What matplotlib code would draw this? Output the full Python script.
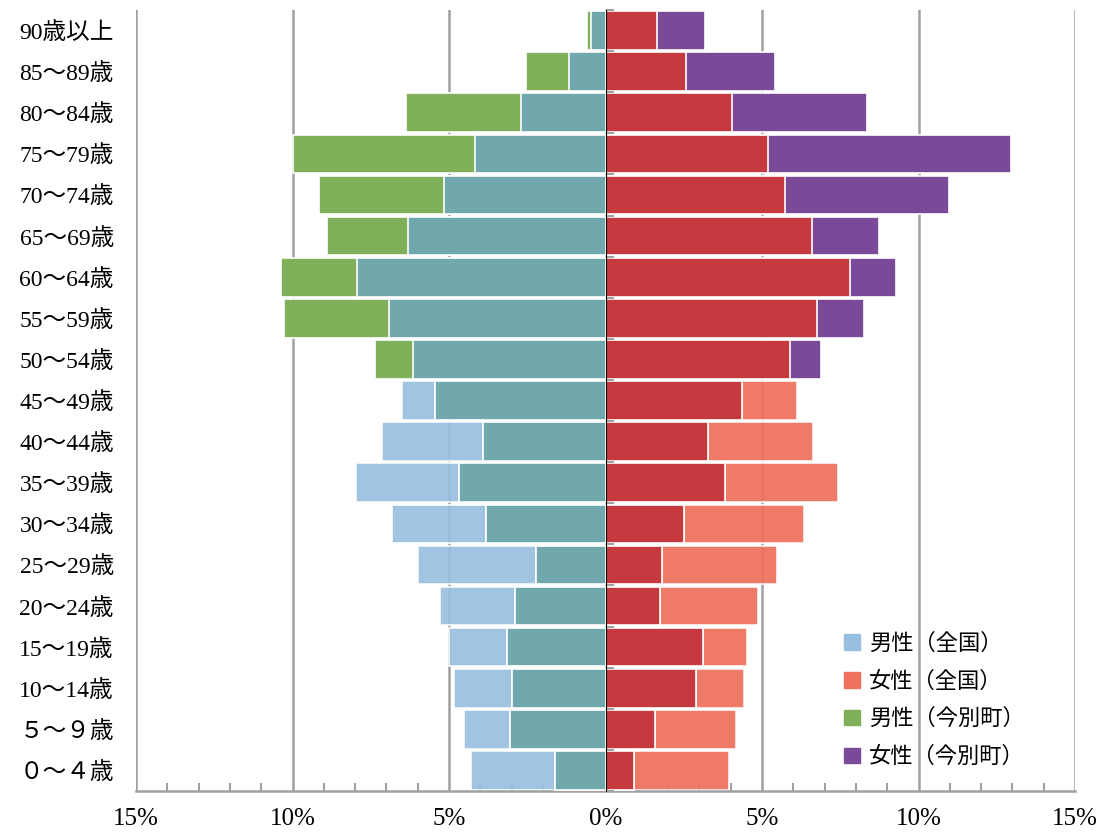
import numpy as np
import matplotlib
matplotlib.use("Agg")
import matplotlib.pyplot as plt
from matplotlib.patches import Patch
from matplotlib.ticker import MultipleLocator

plt.rcParams['font.family'] = ['Liberation Serif', 'Noto Sans CJK JP', 'DejaVu Sans']

# 年齢階級（下から上）
ages = ["０～４歳", "５～９歳", "10～14歳", "15～19歳", "20～24歳", "25～29歳",
        "30～34歳", "35～39歳", "40～44歳", "45～49歳", "50～54歳", "55～59歳",
        "60～64歳", "65～69歳", "70～74歳", "75～79歳", "80～84歳", "85～89歳",
        "90歳以上"]

# 構成比（%）
male_nat = [4.30, 4.52, 4.83, 4.99, 5.29, 5.98, 6.82, 7.98, 7.13, 6.51,
            6.15, 6.92, 7.94, 6.32, 5.16, 4.16, 2.70, 1.17, 0.46]
male_town = [1.60, 3.06, 2.99, 3.14, 2.90, 2.22, 3.83, 4.68, 3.90, 5.45,
             7.36, 10.27, 10.37, 8.91, 9.14, 9.99, 6.37, 2.53, 0.60]
female_nat = [3.96, 4.18, 4.42, 4.51, 4.88, 5.49, 6.33, 7.42, 6.63, 6.11,
              5.89, 6.75, 7.80, 6.58, 5.74, 5.20, 4.05, 2.58, 1.64]
female_town = [0.90, 1.57, 2.88, 3.12, 1.73, 1.81, 2.50, 3.81, 3.27, 4.35,
               6.88, 8.25, 9.27, 8.73, 10.96, 12.95, 8.35, 5.41, 3.18]

c_mnat = "#98BFE0"
c_mtown = "#80B05A"
c_mboth = "#71A8AD"
c_fnat = "#EF725F"
c_ftown = "#7A4A98"
c_fboth = "#C6393F"
grid_c = "#A0A0A0"

y = np.arange(len(ages))
mn = np.array(male_nat)
mt = np.array(male_town)
fn = np.array(female_nat)
ft = np.array(female_town)

fig = plt.figure(figsize=(11.05, 8.36), dpi=100)
ax = fig.add_axes([0.1231, 0.0538, 0.8498, 0.9342])

h = 0.94
kw = dict(height=h, edgecolor="white", linewidth=1.2)
# 男性
ax.barh(y, -mn, color=c_mnat, alpha=0.92, zorder=2, **kw)
ax.barh(y, -mt, color=c_mtown, zorder=3, **kw)
ax.barh(y, -np.minimum(mn, mt), color=c_mboth, zorder=4, **kw)
# 女性
ax.barh(y, fn, color=c_fnat, alpha=0.94, zorder=2, **kw)
ax.barh(y, ft, color=c_ftown, zorder=3, **kw)
ax.barh(y, np.minimum(fn, ft), color=c_fboth, zorder=4, **kw)

ax.set_xlim(-15, 15)
ax.set_ylim(-0.5, len(ages) - 0.5)

# x軸
ax.set_xticks(np.arange(-15, 16, 5))
ax.xaxis.set_minor_locator(MultipleLocator(1))
ax.set_xticklabels([f"{abs(v)}%" for v in range(-15, 16, 5)], fontsize=18)
ax.tick_params(axis="x", which="both", direction="in", color=grid_c, width=1.5)
ax.tick_params(axis="x", which="major", length=0, pad=12)
ax.tick_params(axis="x", which="minor", length=6)
ax.grid(axis="x", color=grid_c, linewidth=1.8, zorder=1)
ax.set_axisbelow(True)

# y軸ラベル
ax.set_yticks(y)
ax.set_yticklabels(ages, fontsize=17)
ax.tick_params(axis="y", length=0, pad=16)

for s in ["top", "right", "left"]:
    ax.spines[s].set_visible(False)
ax.spines["bottom"].set_color(grid_c)
ax.spines["bottom"].set_linewidth(1.8)

# 中央の軸（0%）
sec = ax.secondary_yaxis(0.5)
sec.set_yticks(np.arange(-0.5, len(ages), 1.0))
sec.set_yticklabels([])
sec.tick_params(axis="y", direction="out", length=6, color=grid_c, width=1.5)
sec.spines["left"].set_color(grid_c)
sec.spines["left"].set_linewidth(2.4)
sec.set_zorder(10)

handles = [Patch(color=c_mnat), Patch(color=c_fnat),
           Patch(color=c_mtown), Patch(color=c_ftown)]
labels = ["男性（全国）", "女性（全国）", "男性（今別町）", "女性（今別町）"]
ax.legend(handles, labels, loc="lower left", bbox_to_anchor=(0.745, 0.018),
          frameon=False, fontsize=16, handlelength=0.7, handleheight=0.7,
          handletextpad=0.4, labelspacing=0.74, borderaxespad=0)

fig.savefig("out.png", dpi=100)
